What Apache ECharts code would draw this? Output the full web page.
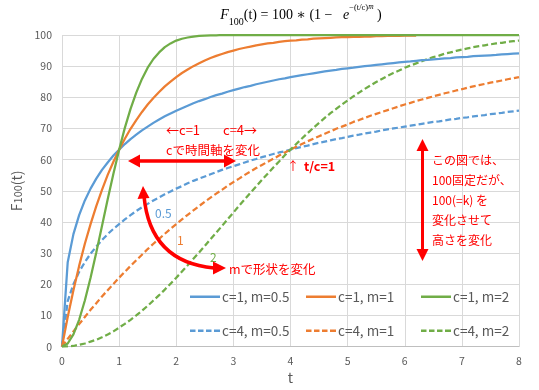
<!DOCTYPE html>
<html><head><meta charset="utf-8">
<script src="https://cdn.jsdelivr.net/npm/echarts@6/dist/echarts.min.js"></script>
<style>html,body{margin:0;padding:0;background:#fff}#c{width:539px;height:390px}</style>
</head><body><div id="c"></div>
<script>
const tVals = [0,0.1,0.2,0.3,0.4,0.5,0.6,0.7,0.8,0.9,1.0,1.1,1.2,1.3,1.4,1.5,1.6,1.7,1.8,1.9,2.0,2.1,2.2,2.3,2.4,2.5,2.6,2.7,2.8,2.9,3.0,3.1,3.2,3.3,3.4,3.5,3.6,3.7,3.8,3.9,4.0,4.1,4.2,4.3,4.4,4.5,4.6,4.7,4.8,4.9,5.0,5.1,5.2,5.3,5.4,5.5,5.6,5.7,5.8,5.9,6.0,6.1,6.2,6.3,6.4,6.5,6.6,6.7,6.8,6.9,7.0,7.1,7.2,7.3,7.4,7.5,7.6,7.7,7.8,7.9,8.0];
const c1m05 = [0,27.1,36.1,42.2,46.9,50.7,53.9,56.7,59.1,61.3,63.2,65.0,66.6,68.0,69.4,70.6,71.8,72.9,73.9,74.8,75.7,76.5,77.3,78.1,78.8,79.4,80.1,80.7,81.2,81.8,82.3,82.8,83.3,83.7,84.2,84.6,85.0,85.4,85.8,86.1,86.5,86.8,87.1,87.4,87.7,88.0,88.3,88.6,88.8,89.1,89.3,89.5,89.8,90.0,90.2,90.4,90.6,90.8,91.0,91.2,91.4,91.5,91.7,91.9,92.0,92.2,92.3,92.5,92.6,92.8,92.9,93.0,93.2,93.3,93.4,93.5,93.6,93.8,93.9,94.0,94.1];
const c1m1 = [0,9.5,18.1,25.9,33.0,39.3,45.1,50.3,55.1,59.3,63.2,66.7,69.9,72.7,75.3,77.7,79.8,81.7,83.5,85.0,86.5,87.8,88.9,90.0,90.9,91.8,92.6,93.3,93.9,94.5,95.0,95.5,95.9,96.3,96.7,97.0,97.3,97.5,97.8,98.0,98.2,98.3,98.5,98.6,98.8,98.9,99.0,99.1,99.2,99.3,99.3,99.4,99.4,99.5,99.5,99.6,99.6,99.7,99.7,99.7,99.8,99.8,99.8];
const c1m2 = [0,1.0,3.9,8.6,14.8,22.1,30.2,38.7,47.3,55.5,63.2,70.2,76.3,81.5,85.9,89.5,92.3,94.4,96.1,97.3,98.2,98.8,99.2,99.5,99.7,99.8,99.9,99.9,
100,100,100,100,100,100,100,100,100,100,
100,100,100,100,100,100,100,100,100,100,
100,100,100,100,100,100,100,100,100,100,
100,100,100,100,100,100,100,100,100,100,
100,100,100,100,100,100,100,100,100,100,
100,100,100];
const c4m05 = [0,14.6,20.0,24.0,27.1,29.8,32.1,34.2,36.1,37.8,39.3,40.8,42.2,43.5,44.7,45.8,46.9,47.9,48.9,49.8,50.7,51.5,52.4,53.2,53.9,54.6,55.3,56.0,56.7,57.3,57.9,58.5,59.1,59.7,60.2,60.8,61.3,61.8,62.3,62.7,63.2,63.7,64.1,64.5,65.0,65.4,65.8,66.2,66.6,66.9,67.3,67.7,68.0,68.4,68.7,69.0,69.4,69.7,70.0,70.3,70.6,70.9,71.2,71.5,71.8,72.1,72.3,72.6,72.9,73.1,73.4,73.6,73.9,74.1,74.3,74.6,74.8,75.0,75.3,75.5,75.7];
const c4m1 = [0,2.5,4.9,7.2,9.5,11.8,13.9,16.1,18.1,20.1,22.1,24.0,25.9,27.7,29.5,31.3,33.0,34.6,36.2,37.8,39.3,40.8,42.3,43.7,45.1,46.5,47.8,49.1,50.3,51.6,52.8,53.9,55.1,56.2,57.3,58.3,59.3,60.3,61.3,62.3,63.2,64.1,65.0,65.9,66.7,67.5,68.3,69.1,69.9,70.6,71.3,72.1,72.7,73.4,74.1,74.7,75.3,75.9,76.5,77.1,77.7,78.2,78.8,79.3,79.8,80.3,80.8,81.3,81.7,82.2,82.6,83.1,83.5,83.9,84.3,84.7,85.0,85.4,85.8,86.1,86.5];
const c4m2 = [0,0.1,0.2,0.6,1.0,1.6,2.2,3.0,3.9,4.9,6.1,7.3,8.6,10.0,11.5,13.1,14.8,16.5,18.3,20.2,22.1,24.1,26.1,28.2,30.2,32.3,34.5,36.6,38.7,40.9,43.0,45.2,47.3,49.4,51.4,53.5,55.5,57.5,59.4,61.4,63.2,65.0,66.8,68.5,70.2,71.8,73.4,74.9,76.3,77.7,79.0,80.3,81.5,82.7,83.8,84.9,85.9,86.9,87.8,88.6,89.5,90.2,90.9,91.6,92.3,92.9,93.4,94.0,94.4,94.9,95.3,95.7,96.1,96.4,96.7,97.0,97.3,97.5,97.8,98.0,98.2];
const seriesNames = ['c=1, m=0.5','c=1, m=1','c=1, m=2','c=4, m=0.5','c=4, m=1','c=4, m=2'];
const xTicks = [0,1,2,3,4,5,6,7,8];
const yTicks = [0,10,20,30,40,50,60,70,80,90,100];

const BLUE='#5B9BD5', ORANGE='#ED7D31', GREEN='#70AD47', RED='#FF0000';
const JP = '"Noto Sans CJK JP", "Noto Sans", sans-serif';
function pairs(vals){ return vals.map((v,i)=>[tVals[i], v]); }
const allData = [c1m05,c1m1,c1m2,c4m05,c4m1,c4m2];
const colors = [BLUE,ORANGE,GREEN,BLUE,ORANGE,GREEN];
const series = allData.map((d,i)=>({
  name: seriesNames[i], type:'line', data: pairs(d), symbol:'none', smooth:false,
  color: colors[i], itemStyle:{color:colors[i]},
  lineStyle:{width:2.25, color: colors[i], type: i>=3 ? [6,3] : 'solid'},
  z: i>=3 ? 3 : 4
}));
const SOLID_ICON = 'path://M0,0H30V2.5H0Z';
const DASH_ICON = 'path://M0,0H5.5V2.5H0Z M8,0H13.5V2.5H8Z M16,0H21.5V2.5H16Z M24,0H30V2.5H24Z';
const legendPos = [[190,290],[306,290],[421,290],[190,324],[306,324],[421,324]];
const legends = seriesNames.map((n,i)=>({
  data:[n], left:legendPos[i][0], top:legendPos[i][1], padding:0,
  itemWidth:30, itemHeight:2.5, icon: i>=3 ? DASH_ICON : SOLID_ICON,
  textStyle:{fontFamily:JP, fontSize:13.5, color:'#595959', padding:[0,0,0,-3]}
}));
function txt(s,x,y,color,size,weight){
  return {type:'text', x:x, y:y, z:10, style:{text:s, fill:color, font:(weight||'normal')+' '+(size||12)+'px '+JP, verticalAlign:'middle', align:'left'}};
}
function poly(pts){ return {type:'polygon', z:10, shape:{points:pts}, style:{fill:RED}}; }
function seg(x1,y1,x2,y2,w){ return {type:'line', z:10, shape:{x1,y1,x2,y2}, style:{stroke:RED, lineWidth:w||3.5}}; }
const SERIF = '"Liberation Serif", "DejaVu Serif", serif';
const graphic = [
  {type:'text', x:301, y:3, z:10, style:{
    text:'{fi|F}{sub|100}{n|(t) = 100 ∗ (1 −   }{fi|e}{sup|−(t/c)}{sup2|m}{n| )}',
    align:'center', verticalAlign:'top',
    rich:{
      n:{fontFamily:SERIF, fontSize:14, lineHeight:24, color:'#222'},
      fi:{fontFamily:SERIF, fontStyle:'italic', fontSize:14, lineHeight:24, color:'#222'},
      sub:{fontFamily:SERIF, fontSize:10, lineHeight:13, verticalAlign:'bottom', color:'#222'},
      sup:{fontFamily:SERIF, fontSize:8.5, lineHeight:12, verticalAlign:'top', color:'#222'},
      sup2:{fontFamily:SERIF, fontStyle:'italic', fontSize:7.5, lineHeight:7, verticalAlign:'top', color:'#222'}
    }}},
  txt('←c=1',166,130,RED,13),
  txt('c=4→',223,130,RED,13),
  txt('cで時間軸を変化',166,150,RED,12.5),
  txt('↑',287,166,RED,12),
  txt('t/c=1',304,166,RED,12.5,'bold'),
  txt('mで形状を変化',229,269,RED,12.5),
  txt('0.5',155,213,BLUE,12),
  txt('1',177,240,ORANGE,12),
  txt('2',210,257,GREEN,12),
  txt('この図では、',432,160,RED,12),
  txt('100固定だが、',432,180,RED,12),
  txt('100(=k) を',432,200,RED,12),
  txt('変化させて',432,220,RED,12),
  txt('高さを変化',432,240,RED,12),
  seg(138,161,226,161,3.5), poly([[128,161],[140,154.5],[140,167.5]]), poly([[236,161],[224,154.5],[224,167.5]]),
  seg(422.5,150,422.5,250,3), poly([[422.5,139],[416.5,151],[428.5,151]]), poly([[422.5,261],[416.5,249],[428.5,249]]),
  {type:'bezierCurve', z:10, shape:{x1:144,y1:196,x2:214,y2:268,cpx1:150,cpy1:262}, style:{stroke:RED, lineWidth:3.5, fill:null}},
  poly([[143,186],[137.5,199],[149.5,198]]), poly([[226,268],[213,261.5],[213,274.5]])
];

const chart = echarts.init(document.getElementById('c'), null, {renderer:'canvas'});
chart.setOption({
  animation:false,
  backgroundColor:'#fff',
  grid:{left:62, right:20, top:35, bottom:37},
  legend: legends,
  xAxis:{type:'value', min:xTicks[0], max:xTicks[xTicks.length-1], interval:1,
    name:'t', nameLocation:'middle', nameGap:22, nameTextStyle:{fontFamily:JP, fontSize:14, color:'#595959'},
    axisLine:{show:true, lineStyle:{color:'#BFBFBF', width:1}}, axisTick:{show:false},
    axisLabel:{fontFamily:JP, fontSize:10.5, color:'#595959', margin:9},
    splitLine:{show:true, lineStyle:{color:'#D9D9D9', width:1}}},
  yAxis:{type:'value', min:yTicks[0], max:yTicks[yTicks.length-1], interval:10,
    name:'F{s|100}(t)', nameLocation:'middle', nameGap:30, nameRotate:90,
    nameTextStyle:{fontFamily:JP, fontSize:14, color:'#595959', rich:{s:{fontFamily:JP, fontSize:11, color:'#595959', padding:[2,0,0,0]}}},
    axisLine:{show:false}, axisTick:{show:false},
    axisLabel:{fontFamily:JP, fontSize:10.5, color:'#595959', margin:10},
    splitLine:{show:true, lineStyle:{color:'#D9D9D9', width:1}}},
  series: series,
  graphic: graphic
});
</script>
</body></html>
